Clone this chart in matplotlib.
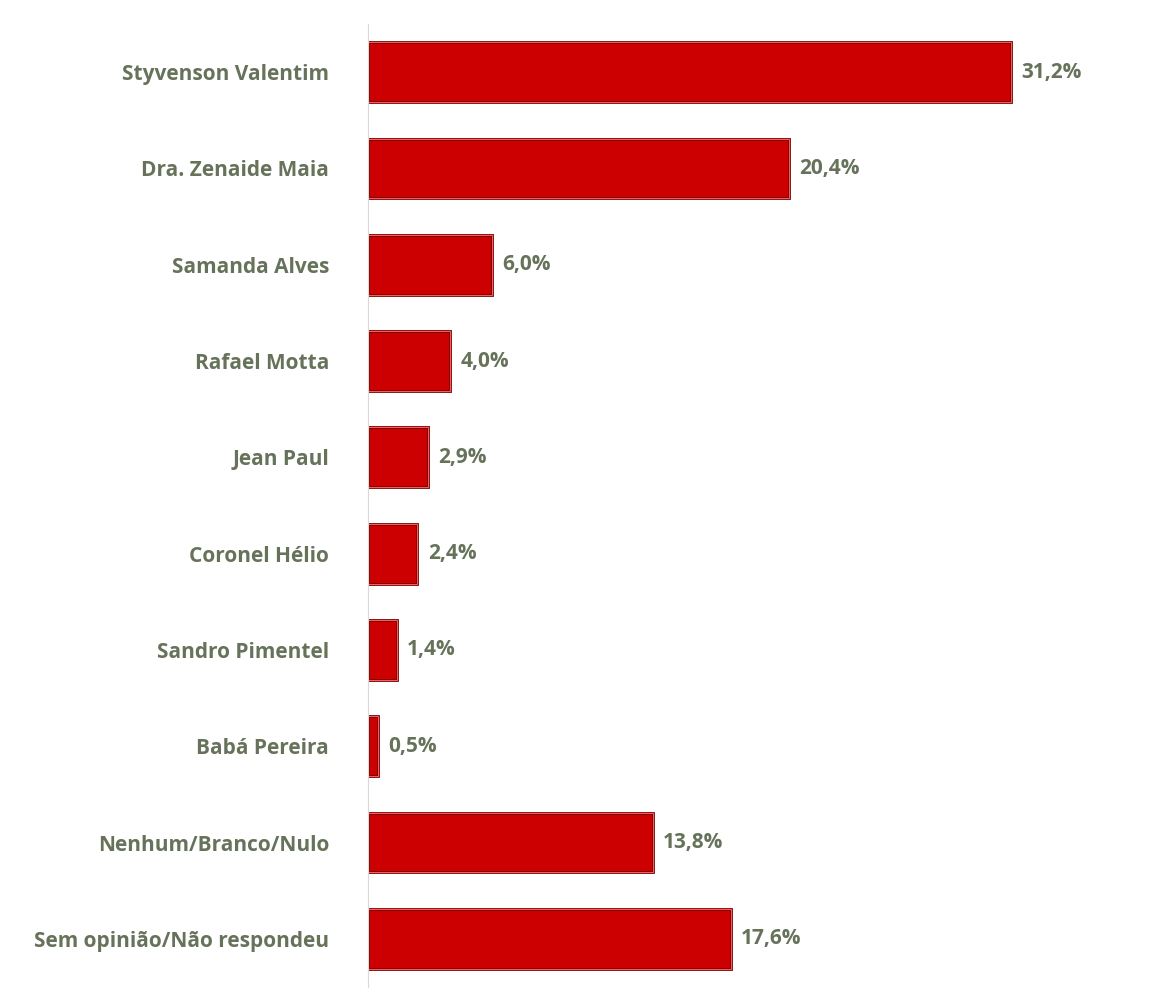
import matplotlib
matplotlib.use("Agg")
import matplotlib.pyplot as plt

categories = ["Styvenson Valentim", "Dra. Zenaide Maia", "Samanda Alves", "Rafael Motta",
              "Jean Paul", "Coronel Hélio", "Sandro Pimentel", "Babá Pereira",
              "Nenhum/Branco/Nulo", "Sem opinião/Não respondeu"]
values = [31.2, 20.4, 6.0, 4.0, 2.9, 2.4, 1.4, 0.5, 13.8, 17.6]
labels = ["31,2%", "20,4%", "6,0%", "4,0%", "2,9%", "2,4%", "1,4%", "0,5%", "13,8%", "17,6%"]

txt = "#66735a"
fig = plt.figure(figsize=(11.7, 9.96), dpi=100)
ax = fig.add_axes([368/1170, 1-987/996, 802/1170, 963/996])
y = list(range(len(categories)))
ax.barh(y, values, height=0.62, color="#cc0000", edgecolor="#6e0000", linewidth=2)
ax.barh(y, values, height=0.62, left=0, color="none", edgecolor="#ff5a5a", linewidth=0.8)
for yi, v, l in zip(y, values, labels):
    ax.text(v + 0.5, yi, l, va="center", ha="left", fontsize=15, fontweight="bold",
            color=txt, family=["Open Sans", "DejaVu Sans"])
ax.set_xlim(0, 38.9)
ax.set_ylim(9.5, -0.5)
ax.set_yticks(y)
ax.set_yticklabels(categories, fontsize=15, fontweight="bold", color=txt,
                   family=["Open Sans", "DejaVu Sans"])
ax.tick_params(axis="y", length=0, pad=28)
ax.set_xticks([])
for s in ["top", "right", "bottom"]:
    ax.spines[s].set_visible(False)
ax.spines["left"].set_color("#d9d9d9")
fig.savefig("out.png", dpi=100)
